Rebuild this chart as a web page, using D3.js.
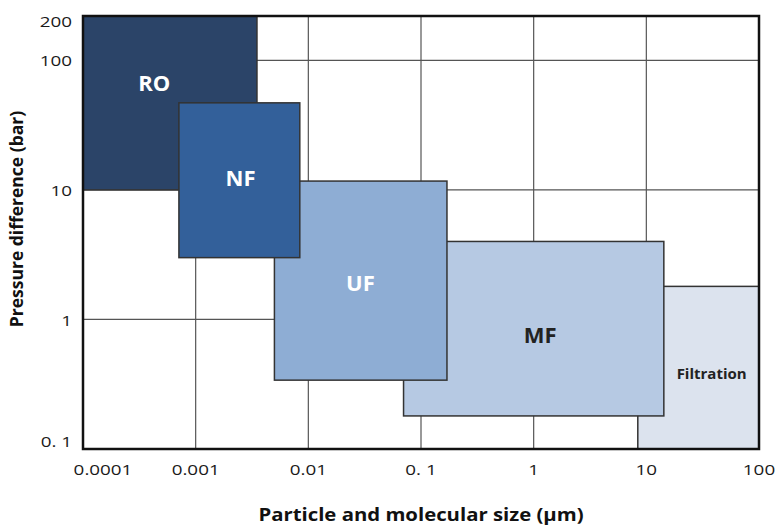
<!DOCTYPE html>
<html>
<head>
<meta charset="utf-8">
<script src="https://cdn.jsdelivr.net/npm/d3@7"></script>
<style>
  body { margin: 0; background: #fff; }
  text { font-family: "Open Sans", sans-serif; }
</style>
</head>
<body>
<div id="chart"></div>
<script>
const width = 776, height = 526;

// membrane processes: size range (um) and pressure range (bar)
const processes = ['RO', 'Filtration', 'MF', 'UF', 'NF'];
const sizeMin = [0.0001, 8.4, 0.07, 0.005, 0.00071];
const sizeMax = [0.0035, 100, 14.3, 0.17, 0.0084];
const pressMin = [10, 0.1, 0.18, 0.34, 3];
const pressMax = [220, 1.8, 4, 11.7, 47];
// where each name sits, in the same units
const labelSize = [0.00043, 38, 1.14, 0.029, 0.0025];
const labelPress = [67, 0.385, 0.76, 1.9, 12.3];
const fills = ['#2b4468', '#dce3ee', '#b6c9e3', '#8eadd4', '#33609a'];
const labelColor = ['#fff', '#222', '#222', '#fff', '#fff'];

const xTicks = [0.0001, 0.001, 0.01, 0.1, 1, 10, 100];
const xTickLabels = ['0.0001', '0.001', '0.01', '0. 1', '1', '10', '100'];
const yTicks = [0.1, 1, 10, 100, 200];
const yTickLabels = ['0. 1', '1', '10', '100', '200'];

const x = d3.scaleLog().domain([0.0001, 100]).range([83, 759]);
const y = d3.scaleLog().domain([0.1, 220]).range([449, 16]);

const svg = d3.select('#chart').append('svg')
    .attr('width', width)
    .attr('height', height);

// grid
svg.append('g').selectAll('line')
  .data([0.001, 0.01, 0.1, 1, 10]).enter().append('line')
    .attr('x1', (d) => x(d)).attr('x2', (d) => x(d))
    .attr('y1', y(220)).attr('y2', y(0.1))
    .attr('stroke', '#555').attr('stroke-width', 1.2);

svg.append('g').selectAll('line')
  .data([1, 10, 100]).enter().append('line')
    .attr('x1', x(0.0001)).attr('x2', x(100))
    .attr('y1', (d) => y(d)).attr('y2', (d) => y(d))
    .attr('stroke', '#555').attr('stroke-width', 1.2);

// boxes
const boxes = processes.map((name, i) => ({
  name, x0: sizeMin[i], x1: sizeMax[i], y0: pressMin[i], y1: pressMax[i],
  lx: labelSize[i], ly: labelPress[i], fill: fills[i], color: labelColor[i]
}));

svg.append('g').selectAll('rect')
  .data(boxes).enter().append('rect')
    .attr('x', (d) => x(d.x0))
    .attr('y', (d) => y(d.y1))
    .attr('width', (d) => x(d.x1) - x(d.x0))
    .attr('height', (d) => y(d.y0) - y(d.y1))
    .attr('fill', (d) => d.fill)
    .attr('stroke', '#333')
    .attr('stroke-width', 1.5);

svg.append('g').selectAll('text')
  .data(boxes).enter().append('text')
    .attr('x', (d) => x(d.lx))
    .attr('y', (d) => y(d.ly))
    .attr('dy', '0.36em')
    .attr('text-anchor', 'middle')
    .attr('font-weight', 'bold')
    .attr('font-size', (d) => d.name === 'Filtration' ? 15 : 22)
    .attr('fill', (d) => d.color)
    .text((d) => d.name);

// frame
svg.append('rect')
    .attr('x', x(0.0001)).attr('y', y(220))
    .attr('width', x(100) - x(0.0001))
    .attr('height', y(0.1) - y(220))
    .attr('fill', 'none')
    .attr('stroke', '#111')
    .attr('stroke-width', 2.5);

// tick labels (the source is stretched sideways a little)
svg.append('g').selectAll('text')
  .data(xTicks).enter().append('text')
    .attr('transform', (d, i) => 'translate(' + (x(d) + (i === 0 ? 20 : 0)) + ',470) scale(1.3,1)')
    .attr('dy', '0.35em')
    .attr('text-anchor', 'middle')
    .attr('font-size', 14.5)
    .attr('fill', '#1a1a1a')
    .text((d, i) => xTickLabels[i]);

svg.append('g').selectAll('text')
  .data(yTicks).enter().append('text')
    .attr('transform', (d) => 'translate(72,' + (d === 0.1 ? y(d) - 7 : y(d) + 1) + ') scale(1.3,1)')
    .attr('dy', '0.35em')
    .attr('text-anchor', 'end')
    .attr('font-size', 14.5)
    .attr('fill', '#1a1a1a')
    .text((d, i) => yTickLabels[i]);

// axis titles
svg.append('text')
    .attr('transform', 'translate(421,515) scale(1.13,1)')
    .attr('dy', '0.35em')
    .attr('text-anchor', 'middle')
    .attr('font-weight', 'bold')
    .attr('font-size', 18)
    .attr('fill', '#111')
    .text('Particle and molecular size (µm)');

svg.append('text')
    .attr('transform', 'translate(17,219) rotate(-90)')
    .attr('dy', '0.35em')
    .attr('text-anchor', 'middle')
    .attr('font-weight', 'bold')
    .attr('font-size', 17.5)
    .attr('fill', '#111')
    .text('Pressure difference (bar)');
</script>
</body>
</html>
